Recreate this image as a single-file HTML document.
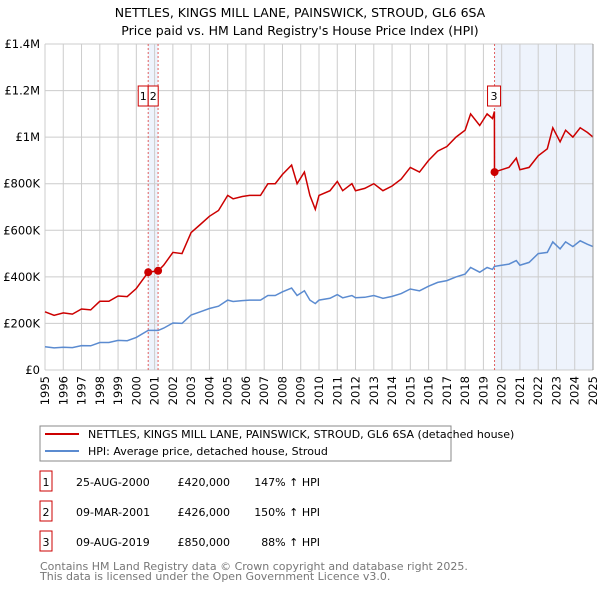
<!DOCTYPE html>
<html><head><meta charset="utf-8"><style>
body{margin:0;background:#fff;font-family:"Liberation Sans","DejaVu Sans",sans-serif;}
svg text{font-family:"DejaVu Sans","Liberation Sans",sans-serif;}
</style></head><body>
<svg id="c" width="600" height="590" viewBox="0 0 600 590" xmlns="http://www.w3.org/2000/svg">
<text x="300" y="17" text-anchor="middle" font-size="12.5" fill="#000">NETTLES, KINGS MILL LANE, PAINSWICK, STROUD, GL6 6SA</text>
<text x="300" y="35" text-anchor="middle" font-size="12.5" fill="#000">Price paid vs. HM Land Registry's House Price Index (HPI)</text>
<g id="grid"></g><g id="marks"></g><g id="axes"></g>
<g>
<rect x="40" y="426" width="411" height="35" fill="#fff" stroke="#888"/>
<line x1="45" y1="434" x2="79" y2="434" stroke="#cc0000" stroke-width="2"/>
<text x="88" y="438" font-size="11">NETTLES, KINGS MILL LANE, PAINSWICK, STROUD, GL6 6SA (detached house)</text>
<line x1="45" y1="451" x2="79" y2="451" stroke="#5b8bd0" stroke-width="2"/>
<text x="88" y="455" font-size="11">HPI: Average price, detached house, Stroud</text>
</g>
<g id="table" font-size="11"></g>
<text x="40" y="570" font-size="11" fill="#777">Contains HM Land Registry data © Crown copyright and database right 2025.</text>
<text x="40" y="580" font-size="11" fill="#777">This data is licensed under the Open Government Licence v3.0.</text>
</svg>
<script>
const yTicks=[0,200000,400000,600000,800000,1000000,1200000,1400000];
const yTickLabels=["£0","£200K","£400K","£600K","£800K","£1M","£1.2M","£1.4M"];
const xTicks=[1995,1996,1997,1998,1999,2000,2001,2002,2003,2004,2005,2006,2007,2008,2009,2010,2011,2012,2013,2014,2015,2016,2017,2018,2019,2020,2021,2022,2023,2024,2025];
const hpiYears=[1995,1995.5,1996,1996.5,1997,1997.5,1998,1998.5,1999,1999.5,2000,2000.65,2001.2,2001.5,2002,2002.5,2003,2003.5,2004,2004.5,2005,2005.3,2005.8,2006.2,2006.8,2007.2,2007.6,2008,2008.5,2008.8,2009.2,2009.5,2009.8,2010,2010.6,2011,2011.3,2011.8,2012,2012.5,2013,2013.5,2014,2014.5,2015,2015.5,2016,2016.5,2017,2017.5,2018,2018.3,2018.8,2019.2,2019.5,2019.6,2020,2020.4,2020.8,2021,2021.5,2022,2022.5,2022.8,2023.2,2023.5,2023.9,2024.3,2024.7,2025];
const hpiValues=[100,95,98,96,105,104,118,118,127,126,140,170,170,180,202,200,236,250,264,274,300,294,298,300,300,320,320,336,352,320,340,300,285,300,308,324,310,320,310,312,320,308,316,328,348,340,360,376,384,400,412,440,420,440,432,445,450,455,470,450,462,500,505,550,520,550,530,555,540,530];
const saleYears=[2000.65,2001.19,2019.61];
const salePrices=[420000,426000,850000];
const redYears=[1995,1995.5,1996,1996.5,1997,1997.5,1998,1998.5,1999,1999.5,2000,2000.65,2001.2,2001.5,2002,2002.5,2003,2003.5,2004,2004.5,2005,2005.3,2005.8,2006.2,2006.8,2007.2,2007.6,2008,2008.5,2008.8,2009.2,2009.5,2009.8,2010,2010.6,2011,2011.3,2011.8,2012,2012.5,2013,2013.5,2014,2014.5,2015,2015.5,2016,2016.5,2017,2017.5,2018,2018.3,2018.8,2019.2,2019.5,2019.6,2019.61,2020,2020.4,2020.8,2021,2021.5,2022,2022.5,2022.8,2023.2,2023.5,2023.9,2024.3,2024.7,2025];
const redValues=[250,235,245,240,262,258,295,295,318,315,350,420,426,450,505,500,590,625,660,685,750,735,745,750,750,800,800,840,880,800,850,750,690,750,770,810,770,800,770,780,800,770,790,820,870,850,900,940,960,1000,1030,1100,1050,1100,1080,1110,850,860,870,910,860,870,920,950,1040,980,1030,1000,1040,1020,1000];
const tableDates=["25-AUG-2000","09-MAR-2001","09-AUG-2019"];
const tablePrices=["£420,000","£426,000","£850,000"];
const tablePct=["147% ↑ HPI","150% ↑ HPI","88% ↑ HPI"];

const X0=45,X1=593,Y0=370,Y1=44;
const xs=y=>X0+(y-1995)/30*(X1-X0);
const ys=v=>Y0-v/1400000*(Y0-Y1);
const NS="http://www.w3.org/2000/svg";
function mk(p,t,a){const e=document.createElementNS(NS,t);for(const k in a)e.setAttribute(k,a[k]);p.appendChild(e);return e;}
const grid=document.getElementById('grid'),marks=document.getElementById('marks'),axes=document.getElementById('axes'),table=document.getElementById('table');
// shaded periods
let s1=mk(grid,'rect',{x:xs(saleYears[0]),y:Y1,width:xs(saleYears[1])-xs(saleYears[0]),height:Y0-Y1,fill:'#eef3fc'});


let s2=mk(grid,'rect',{x:xs(saleYears[2]),y:Y1,width:X1-xs(saleYears[2]),height:Y0-Y1,fill:'#eef3fc'});


xTicks.forEach((t,i)=>{
 let l=mk(grid,'line',{x1:xs(t),y1:Y1,x2:xs(t),y2:Y0,stroke:'#ccc','stroke-width':1});
 
 
 let tx=mk(axes,'text',{x:0,y:0,'font-size':11.5,'text-anchor':'end',transform:`translate(${xs(t)+4},${Y0+6}) rotate(-90)`});
 tx.textContent=t;
 
 
});
yTicks.forEach((t,i)=>{
 let l=mk(grid,'line',{x1:X0,y1:ys(t),x2:X1,y2:ys(t),stroke:'#ccc','stroke-width':1});
 
 
 let tx=mk(axes,'text',{x:40,y:ys(t)+4,'font-size':11.5,'text-anchor':'end'});
 tx.textContent=yTickLabels[i];
 
 
});
saleYears.forEach((y,i)=>{
 let l=mk(grid,'line',{x1:xs(y),y1:Y1,x2:xs(y),y2:Y0,stroke:'#e06060','stroke-width':1,'stroke-dasharray':'2,2'});
 
 
});
let hp=hpiYears.map((y,i)=>xs(y).toFixed(1)+','+ys(hpiValues[i]*1000).toFixed(1)).join(' ');
let hl=mk(marks,'polyline',{points:hp,fill:'none',stroke:'#5b8bd0','stroke-width':1.5});


let rp=redYears.map((y,i)=>xs(y).toFixed(1)+','+ys(redValues[i]*1000).toFixed(1)).join(' ');
let rl=mk(marks,'polyline',{points:rp,fill:'none',stroke:'#cc0000','stroke-width':1.5});


saleYears.forEach((y,i)=>{
 let c=mk(marks,'circle',{cx:xs(y),cy:ys(salePrices[i]),r:4,fill:'#cc0000'});
 
 
});
// number boxes on chart
const boxPos=[[xs(saleYears[0])-10,86],[xs(saleYears[1])-10,86],[xs(saleYears[2])-10,86]];
[0,1,2].forEach(i=>{
 let bx=i===0?xs(saleYears[0])-10:(i===1?xs(saleYears[0]):xs(saleYears[2])-7);
 let g=mk(marks,'g',{});
 
 
 mk(g,'rect',{x:bx,y:86,width:i===2?13:10,height:20,fill:'#fff',stroke:'#cc0000'});
 let t=mk(g,'text',{x:bx+(i===2?6.5:5),y:100,'font-size':11,'text-anchor':'middle'});t.textContent=i+1;
});
mk(axes,'line',{x1:X1,y1:Y1,x2:X1,y2:Y0,stroke:'#999'});
// table
[0,1,2].forEach(i=>{
 const y=483+i*30;
 let g=mk(table,'g',{});
 
 
 mk(g,'rect',{x:40,y:y-12,width:12,height:20,fill:'#fff',stroke:'#cc0000'});
 let a=mk(g,'text',{x:46,y:y+3,'text-anchor':'middle'});a.textContent=i+1;
 let b=mk(g,'text',{x:76,y:y+3});b.textContent=tableDates[i];
 let c=mk(g,'text',{x:230,y:y+3,'text-anchor':'end'});c.textContent=tablePrices[i];
 let d=mk(g,'text',{x:320,y:y+3,'text-anchor':'end'});d.textContent=tablePct[i];
});
</script>
</body></html>
